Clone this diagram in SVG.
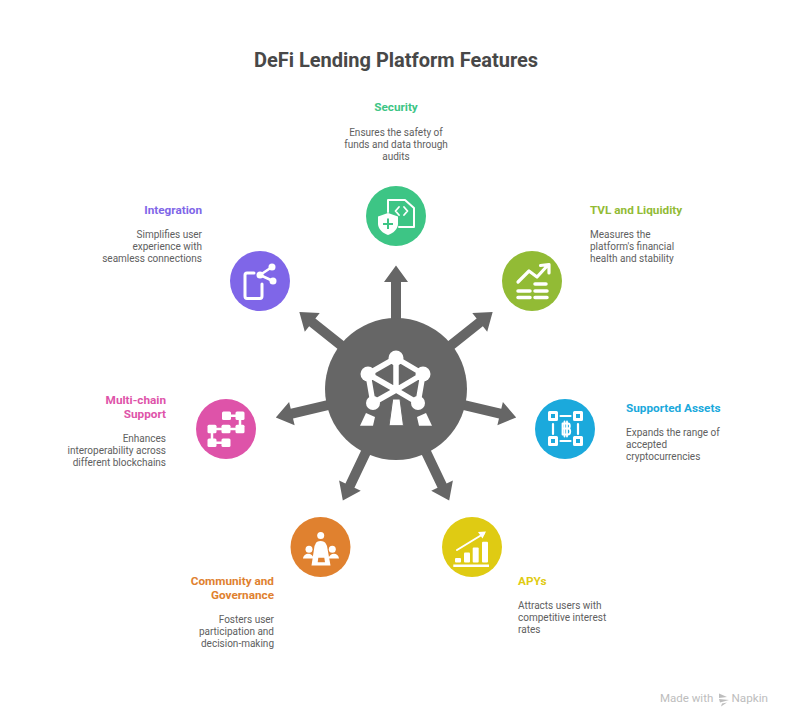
<svg xmlns="http://www.w3.org/2000/svg" width="792" height="727" viewBox="0 0 792 727">
<style>
text{font-family:Roboto,"Liberation Sans",sans-serif}
.t{font-size:20px;font-weight:700;fill:#484848;text-anchor:middle}
.h{font-size:11.750px;font-weight:700}
.b{font-size:10px;fill:#606060}
.m{text-anchor:middle}.e{text-anchor:end}
.ln{fill:none;stroke:#fff;stroke-linecap:round;stroke-linejoin:round}
.w{fill:#fff}
.ar{fill:#666}
</style>
<defs>
<polygon id="arrow" points="-5,0 -5,-107 -12,-107 0,-123.500 12,-107 5,-107 5,0"/>
</defs>
<rect width="792" height="727" fill="#fff"/>
<text class="t" x="396" y="66.500">DeFi Lending Platform Features</text>
<g id="connectors" class="ar">
<use href="#arrow" transform="translate(396 389)"/>
<use href="#arrow" transform="translate(396 389) rotate(51.500)"/>
<use href="#arrow" transform="translate(396 389) rotate(103.300)"/>
<use href="#arrow" transform="translate(396 389) rotate(154.500)"/>
<use href="#arrow" transform="translate(396 389) rotate(-154.500)"/>
<use href="#arrow" transform="translate(396 389) rotate(-103.300)"/>
<use href="#arrow" transform="translate(396 389) rotate(-51.500)"/>
</g>
<g id="hub">
<circle cx="396" cy="389" r="71" fill="#666"/>
<path class="ln" stroke-width="5.500" d="M396 358L368 374L373 403M396 358L423 374L418 403M396 358V390M368 374L396 390L423 374M373 403L396 390L418 403"/>
<g class="w"><circle cx="396" cy="358" r="7.500"/><circle cx="368" cy="374" r="7.500"/><circle cx="423" cy="374" r="7.500"/><circle cx="373" cy="403" r="7"/><circle cx="418" cy="403" r="7"/>
<polygon points="392.700,399 400,399 403.500,425.700 389,425.700" stroke="#666" stroke-width="1"/><polygon points="366,413 375,417 373,425.700 360,425.700"/><polygon points="417,417 426,413 432,425.700 419,425.700"/></g>
</g>
<g id="security">
<circle cx="396" cy="216" r="30" fill="#3dc585"/>
<path class="ln" stroke-width="2" d="M388 212V200H405L414 208V227H399"/>
<path class="ln" stroke-width="1.800" d="M399 207L395.500 211L399 215M404 207L407.500 211L404 215"/>
<path class="w" d="M388 213L398 216.500V224C398 229 393 233.500 388 235C383 233.500 378 229 378 224V216.500Z"/>
<path d="M388 218.500V229M383 224H393" stroke="#3dc585" stroke-width="2" fill="none"/>
<text class="h m" x="396" y="111.300" fill="#3dc585">Security</text>
<text class="b m" x="396" y="136">Ensures the safety of</text>
<text class="b m" x="396" y="148">funds and data through</text>
<text class="b m" x="396" y="160">audits</text>
</g>
<g id="integration">
<circle cx="260" cy="281" r="30" fill="#7f66e8"/>
<path class="ln" stroke-width="3" d="M254 273H247C245.500 273 245 274 245 275V296C245 297.500 246 298.500 247 298.500H260C261.500 298.500 262 297.500 262 296V284"/>
<path class="ln" stroke-width="2.500" d="M272 267L260 275L273 281"/>
<g class="w"><circle cx="272" cy="267" r="3.500"/><circle cx="260" cy="275" r="3.500"/><circle cx="273" cy="281" r="3.500"/></g>
<text class="h e" x="202" y="213.700" fill="#7f66e8">Integration</text>
<text class="b e" x="202" y="238">Simplifies user</text>
<text class="b e" x="202" y="250">experience with</text>
<text class="b e" x="202" y="262">seamless connections</text>
</g>
<g id="tvl">
<circle cx="532" cy="281" r="30" fill="#92bb35"/>
<path class="ln" stroke-width="3.200" d="M518 282L529 271L537 277L548 265M540.500 265.500L549 264.500L549 273"/>
<path class="ln" stroke-width="3.500" d="M535 284H546M518 291H530M535 291H547M518 297.500H530M535 297.500H547"/>
<text class="h" x="590" y="213.700" fill="#92bb35">TVL and Liquidity</text>
<text class="b" x="590" y="238">Measures the</text>
<text class="b" x="590" y="250">platform's financial</text>
<text class="b" x="590" y="262">health and stability</text>
</g>
<g id="assets">
<circle cx="565" cy="429" r="30" fill="#1ba9dc"/>
<g class="ln" stroke-width="3" stroke-linejoin="miter"><rect x="549.500" y="412.500" width="7" height="7"/><rect x="574.500" y="412.500" width="7" height="7"/><rect x="549.500" y="437.500" width="7" height="7"/><rect x="574.500" y="437.500" width="7" height="7"/></g>
<path class="ln" stroke-width="2.200" d="M560.500 416H570.500M560.500 441H570.500M553 424V434M578 424V434"/>
<path class="ln" stroke-width="1.800" d="M562.500 423.500H568C570.500 423.500 570.500 428.500 568 428.500H562.500M568 428.500C571 428.500 571 434.500 568 434.500H562.500V423.500M564.500 421.500V436.500M567 421.500V436.500"/>
<text class="h" x="626" y="411.700" fill="#1ba9dc">Supported Assets</text>
<text class="b" x="626" y="436">Expands the range of</text>
<text class="b" x="626" y="448">accepted</text>
<text class="b" x="626" y="460">cryptocurrencies</text>
</g>
<g id="apys">
<circle cx="472" cy="547" r="30" fill="#dfcb13"/>
<path class="ln" stroke-width="2" d="M457 550L484 533.500"/>
<polygon class="w" points="486,531.500 478,532 482.500,538.500"/>
<g class="w"><rect x="455" y="558" width="6" height="4.500" rx="1"/><rect x="464" y="552.500" width="6" height="10" rx="1"/><rect x="472.700" y="547.500" width="6" height="15" rx="1"/><rect x="482" y="541.700" width="6" height="20.800" rx="1"/><rect x="453.300" y="564.500" width="35.700" height="2.500"/></g>
<text class="h" x="518" y="585.300" fill="#dfcb13">APYs</text>
<text class="b" x="518" y="609">Attracts users with</text>
<text class="b" x="518" y="621">competitive interest</text>
<text class="b" x="518" y="633">rates</text>
</g>
<g id="community">
<circle cx="320.500" cy="547" r="30" fill="#e0812f"/>
<g class="w"><circle cx="320.700" cy="535.500" r="3.500"/><circle cx="309" cy="549.300" r="3.500"/><circle cx="332.300" cy="549.300" r="3.500"/>
<path d="M315.500 544C316 540 325 540 326 544L327 546H314.500Z"/>
<path fill-rule="evenodd" d="M314.500 546H327L330.500 565.500H311.500ZM318.300 557.700L317.700 562.300H325L324.300 557.700Z"/>
<path d="M303 558.500C303.500 552 313 552 313.500 558.500Z"/><path d="M328.500 558.500C329.500 552 338.500 552 339 558.500Z"/></g>
<text class="h e" x="274" y="584.800" fill="#e0812f">Community and</text>
<text class="h e" x="274" y="598.800" fill="#e0812f">Governance</text>
<text class="b e" x="274" y="623">Fosters user</text>
<text class="b e" x="274" y="635">participation and</text>
<text class="b e" x="274" y="647">decision-making</text>
</g>
<g id="multichain">
<circle cx="226" cy="429" r="30" fill="#de53a9"/>
<path class="ln" stroke-width="2.500" d="M226.700 415.700H240V429H212V442.700H225.700"/>
<g class="w"><rect x="222" y="411.500" width="9" height="8.500" rx="1.500"/><rect x="235.500" y="411.500" width="9" height="8.500" rx="1.500"/><rect x="235.500" y="424.700" width="9" height="8.500" rx="1.500"/><rect x="221.500" y="424.700" width="9" height="8.500" rx="1.500"/><rect x="207.500" y="424.700" width="9" height="8.500" rx="1.500"/><rect x="207.500" y="438.500" width="9" height="8.500" rx="1.500"/><rect x="221.500" y="438.500" width="9" height="8.500" rx="1.500"/></g>
<text class="h e" x="166" y="403.800" fill="#de53a9">Multi-chain</text>
<text class="h e" x="166" y="417.800" fill="#de53a9">Support</text>
<text class="b e" x="166" y="442">Enhances</text>
<text class="b e" x="166" y="454">interoperability across</text>
<text class="b e" x="166" y="466">different blockchains</text>
</g>
<g id="watermark">
<text x="660" y="702" font-size="11.500" fill="#bdbdbd">Made with</text>
<path d="M719 693.500L727 697L719 698ZM719 699L729 700L720 702.500ZM722 703.500L727 702.500L721 706.500Z" fill="#bdbdbd"/>
<text x="731.500" y="702" font-size="11.700" fill="#bdbdbd">Napkin</text>
</g>
</svg>
